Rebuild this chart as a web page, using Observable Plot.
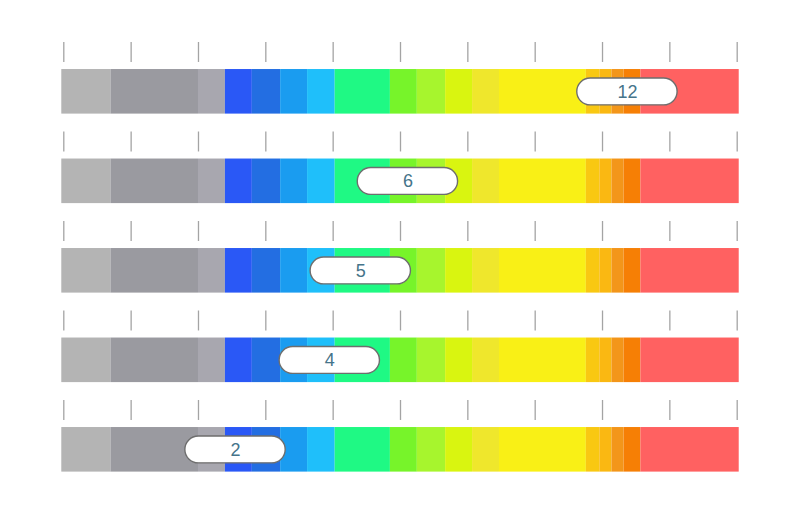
<!DOCTYPE html>
<html>
<head>
<meta charset="utf-8">
<script src="https://cdn.jsdelivr.net/npm/d3@7"></script>
<script src="https://cdn.jsdelivr.net/npm/@observablehq/plot@0.6"></script>
<style>
  html, body { margin: 0; padding: 0; background: #fff; }
  #chart { width: 800px; height: 516px; }
</style>
</head>
<body>
<div id="chart"></div>
<script>
// Rows (gauges), top to bottom
const rows = [0, 1, 2, 3, 4];
const labels = ["12", "6", "5", "4", "2"];
const markerPos = [83.7, 51.1, 44.1, 39.5, 25.5];

// Colour band boundaries (scale units 0–100) and colours
const bandStops = [-0.3, 7, 20, 24, 28, 32.2, 36.2, 40.3, 48.5, 52.5, 56.7, 60.7, 64.7, 77.6, 79.6, 81.4, 83.2, 85.7, 100.3];
const bandColors = ["#b4b4b4", "#9a9aa0", "#a8a7af", "#2a58f6", "#236ee2", "#1a9cf0", "#1fbffa", "#1ff984", "#77f42a", "#a7f52d", "#d9f510", "#efe72c", "#f9f016", "#f9c812", "#fab812", "#f3961a", "#f67f05", "#ff6161"];

// Tick values along each gauge
const tickValues = [0, 10, 20, 30, 40, 50, 60, 70, 80, 90, 100];

// Build tables
const bands = [];
for (const r of rows) {
  for (let i = 0; i < bandColors.length; i++) {
    bands.push({row: r, x1: bandStops[i], x2: bandStops[i + 1], color: bandColors[i]});
  }
}
const ticks = [];
for (const r of rows) for (const t of tickValues) ticks.push({row: r, x: t});
const markers = rows.map((r, i) => ({row: r, x: markerPos[i], label: labels[i]}));

const pillHalfW = 7.45;   // half pill width in x units
const pillHalfH = 0.15;   // half pill height in row units
const barTop = 0.302, barBottom = 0.8, tickLen = 0.223, barMid = 0.552;

const chart = Plot.plot({
  width: 800,
  height: 516,
  marginLeft: 63.3,
  marginRight: 63.3,
  marginTop: 42,
  marginBottom: 26.5,
  x: {domain: [0, 100], axis: null},
  y: {domain: [0, 5], axis: null, reverse: true},
  color: {type: "identity"},
  marks: [
    Plot.ruleX(ticks, {x: "x", y1: "row", y2: d => d.row + tickLen, stroke: "#a4a4a4", strokeWidth: 1.3}),
    Plot.rect(bands, {x1: "x1", x2: "x2", y1: d => d.row + barTop, y2: d => d.row + barBottom, fill: "color"}),
    Plot.rect(markers, {
      x1: d => d.x - pillHalfW, x2: d => d.x + pillHalfW,
      y1: d => d.row + barMid - pillHalfH, y2: d => d.row + barMid + pillHalfH,
      rx: 13.5, fill: "#ffffff", stroke: "#6e6e6e", strokeWidth: 1.4
    }),
    Plot.text(markers, {
      x: "x", y: d => d.row + barMid, text: "label",
      fill: "#45748a", fontSize: 18, fontFamily: "Liberation Sans, Arial, sans-serif"
    })
  ]
});
document.getElementById("chart").appendChild(chart);
</script>
</body>
</html>
